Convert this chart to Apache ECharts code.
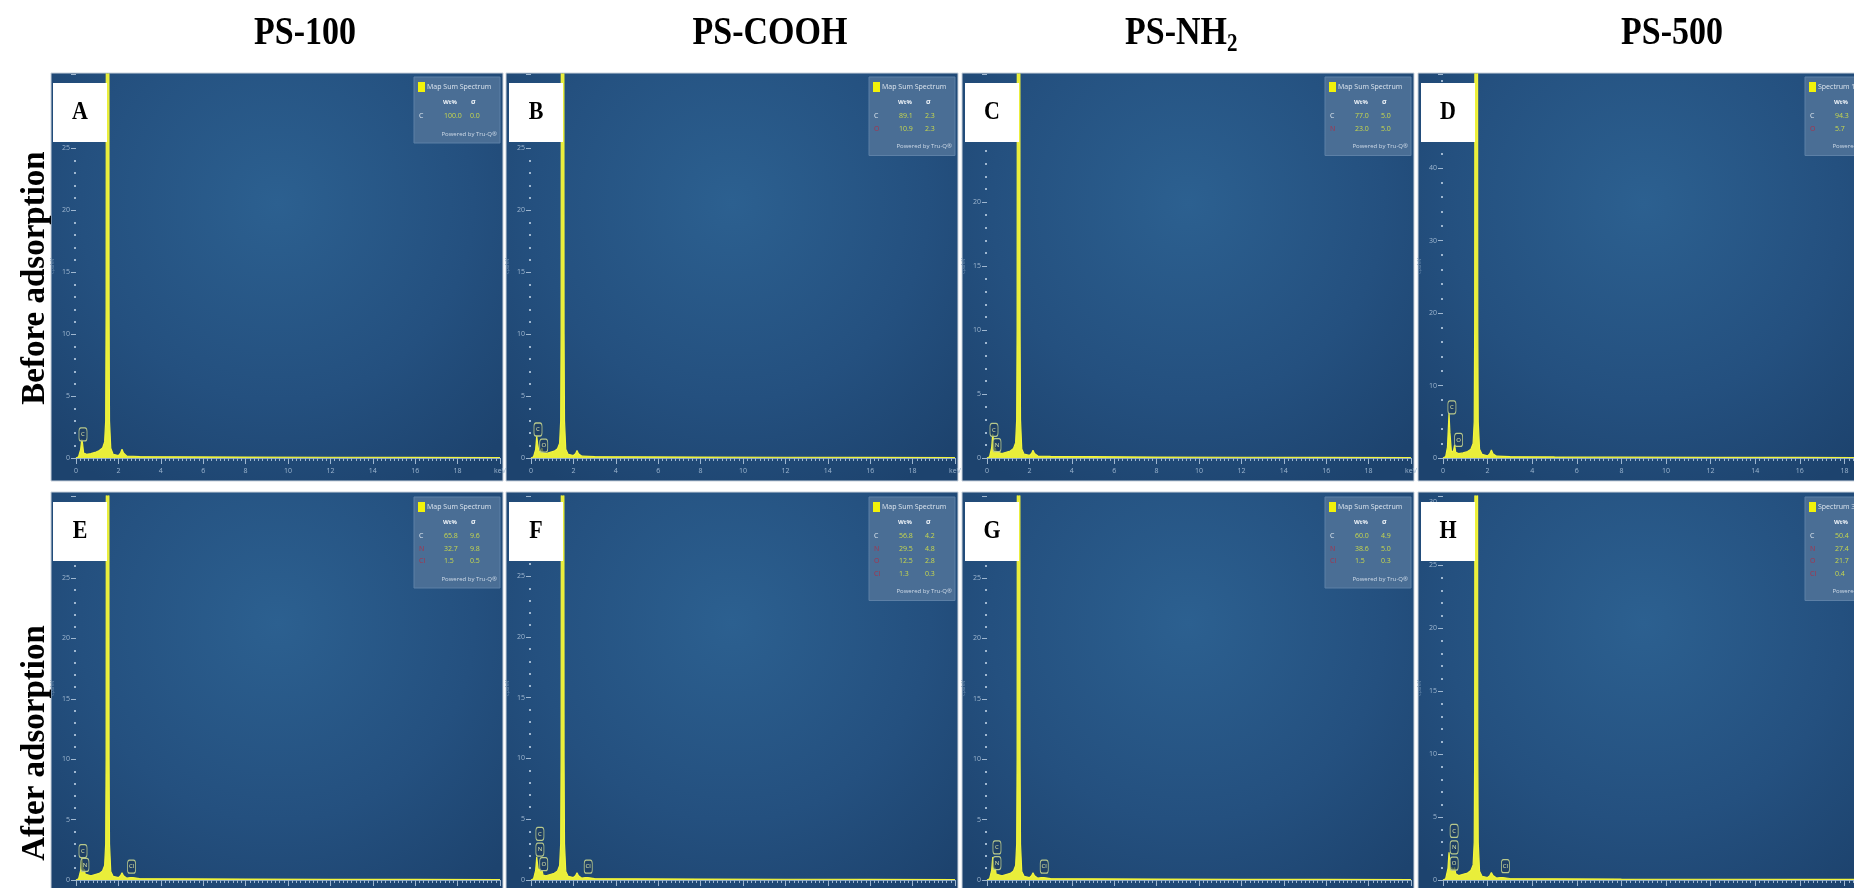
<!DOCTYPE html>
<html><head><meta charset="utf-8">
<script src="https://cdn.jsdelivr.net/npm/echarts@6/dist/echarts.min.js"></script>
<style>html,body{margin:0;padding:0;background:#fff}#c{width:1854px;height:888px}</style>
</head><body><div id="c"></div>
<script>
// ---------------- DATA ----------------
const panelLetters = ['A','B','C','D','E','F','G','H'];
const columnTitles = ['PS-100','PS-COOH','PS-NH','PS-500'];
const columnSubscripts = ['','','2',''];
const rowTitles = ['Before adsorption','After adsorption'];
const legendTitles = ['Map Sum Spectrum','Map Sum Spectrum','Map Sum Spectrum','Spectrum 1','Map Sum Spectrum','Map Sum Spectrum','Map Sum Spectrum','Spectrum 3'];
const legendHeader = ['Wt%','σ'];
const legendFooter = 'Powered by Tru-Q®';
const yAxisName = 'cps/eV';
const xUnitLabel = 'keV';
const xMax = 20, xInterval = 2;
const yMaxes = [31,31,30,53,31.8,31.6,31.8,30.5];
const yIntervals = [5,5,5,10,5,5,5,5];

// spectra: [keV, counts]
const specA = [[0,0],[0.12,0.1],[0.22,0.7],[0.27,1.5],[0.3,1.3],[0.36,0.4],[0.5,0.3],[0.7,0.35],[0.9,0.45],[1.1,0.6],[1.25,0.8],[1.35,1.3],[1.40,3],[1.42,12],[1.44,60],[1.49,400],[1.54,60],[1.56,12],[1.58,3],[1.64,0.8],[1.75,0.3],[2.0,0.2],[2.1,0.4],[2.17,0.7],[2.24,0.4],[2.4,0.15],[3,0.12],[5,0.1],[8,0.08],[12,0.06],[16,0.05],[20,0.04]];
const specB = [[0,0],[0.12,0.1],[0.22,0.7],[0.27,1.8],[0.31,1.2],[0.38,0.4],[0.47,0.5],[0.52,0.8],[0.57,0.4],[0.7,0.35],[0.9,0.45],[1.1,0.55],[1.25,0.75],[1.35,1.2],[1.40,3],[1.42,10],[1.44,55],[1.49,380],[1.54,55],[1.56,10],[1.58,3],[1.64,0.7],[1.75,0.3],[2.0,0.2],[2.1,0.35],[2.17,0.6],[2.24,0.35],[2.4,0.15],[3,0.12],[5,0.1],[8,0.08],[12,0.06],[16,0.05],[20,0.04]];
const specC = [[0,0],[0.12,0.1],[0.22,0.8],[0.27,1.9],[0.31,1.3],[0.35,0.6],[0.39,0.8],[0.43,0.5],[0.5,0.35],[0.7,0.35],[0.9,0.45],[1.1,0.55],[1.25,0.75],[1.35,1.2],[1.40,3],[1.42,10],[1.44,55],[1.49,380],[1.54,55],[1.56,10],[1.58,3],[1.64,0.7],[1.75,0.3],[2.0,0.2],[2.1,0.35],[2.17,0.6],[2.24,0.35],[2.4,0.15],[3,0.12],[5,0.1],[8,0.08],[12,0.06],[16,0.05],[20,0.04]];
const specD = [[0,0],[0.12,0.2],[0.2,1.5],[0.27,6.2],[0.31,3.5],[0.38,0.8],[0.47,1.0],[0.52,1.8],[0.57,0.8],[0.7,0.6],[0.9,0.7],[1.1,0.9],[1.25,1.2],[1.35,2],[1.40,5],[1.42,18],[1.44,90],[1.49,600],[1.54,90],[1.56,18],[1.58,5],[1.64,1.2],[1.75,0.5],[2.0,0.3],[2.1,0.6],[2.17,1.1],[2.24,0.6],[2.4,0.25],[3,0.2],[5,0.15],[8,0.12],[12,0.1],[16,0.08],[20,0.06]];
const specE = [[0,0],[0.12,0.1],[0.22,0.8],[0.27,1.8],[0.31,1.3],[0.35,0.7],[0.39,0.9],[0.43,0.5],[0.5,0.35],[0.7,0.35],[0.9,0.45],[1.1,0.55],[1.25,0.75],[1.35,1.2],[1.40,3],[1.42,10],[1.44,55],[1.49,380],[1.54,55],[1.56,10],[1.58,3],[1.64,0.7],[1.75,0.3],[2.0,0.2],[2.1,0.35],[2.17,0.6],[2.24,0.35],[2.4,0.15],[2.56,0.2],[2.62,0.35],[2.68,0.2],[3,0.12],[5,0.1],[8,0.08],[12,0.06],[16,0.05],[20,0.04]];
const specF = [[0,0],[0.12,0.1],[0.22,0.8],[0.27,1.9],[0.31,1.3],[0.35,0.7],[0.39,0.9],[0.45,0.6],[0.52,0.8],[0.57,0.4],[0.7,0.35],[0.9,0.45],[1.1,0.55],[1.25,0.75],[1.35,1.2],[1.40,3],[1.42,10],[1.44,55],[1.49,380],[1.54,55],[1.56,10],[1.58,3],[1.64,0.7],[1.75,0.3],[2.0,0.2],[2.1,0.35],[2.17,0.6],[2.24,0.35],[2.4,0.15],[2.56,0.2],[2.62,0.35],[2.68,0.2],[3,0.12],[5,0.1],[8,0.08],[12,0.06],[16,0.05],[20,0.04]];
const specG = [[0,0],[0.12,0.1],[0.22,0.8],[0.27,1.9],[0.31,1.3],[0.35,0.7],[0.39,1.0],[0.43,0.5],[0.5,0.35],[0.7,0.35],[0.9,0.45],[1.1,0.55],[1.25,0.75],[1.35,1.2],[1.40,3],[1.42,10],[1.44,55],[1.49,380],[1.54,55],[1.56,10],[1.58,3],[1.64,0.7],[1.75,0.3],[2.0,0.2],[2.1,0.35],[2.17,0.6],[2.24,0.35],[2.4,0.15],[2.56,0.2],[2.62,0.35],[2.68,0.2],[3,0.12],[5,0.1],[8,0.08],[12,0.06],[16,0.05],[20,0.04]];
const specH = [[0,0],[0.12,0.1],[0.22,0.9],[0.27,2.2],[0.31,1.4],[0.35,0.8],[0.39,1.0],[0.45,0.7],[0.52,1.0],[0.57,0.5],[0.7,0.35],[0.9,0.45],[1.1,0.55],[1.25,0.75],[1.35,1.2],[1.40,3],[1.42,10],[1.44,55],[1.49,380],[1.54,55],[1.56,10],[1.58,3],[1.64,0.7],[1.75,0.3],[2.0,0.2],[2.1,0.35],[2.17,0.6],[2.24,0.35],[2.4,0.15],[2.56,0.2],[2.62,0.3],[2.68,0.2],[3,0.12],[5,0.1],[8,0.08],[12,0.06],[16,0.05],[20,0.04]];

// element quantification tables: [element, Wt%, sigma]
const compA = [['C','100.0','0.0']];
const compB = [['C','89.1','2.3'],['O','10.9','2.3']];
const compC = [['C','77.0','5.0'],['N','23.0','5.0']];
const compD = [['C','94.3','1.1'],['O','5.7','1.1']];
const compE = [['C','65.8','9.6'],['N','32.7','9.8'],['Cl','1.5','0.5']];
const compF = [['C','56.8','4.2'],['N','29.5','4.8'],['O','12.5','2.8'],['Cl','1.3','0.3']];
const compG = [['C','60.0','4.9'],['N','38.6','5.0'],['Cl','1.5','0.3']];
const compH = [['C','50.4','7.1'],['N','27.4','6.9'],['O','21.7','6.1'],['Cl','0.4','0.1']];

// peak tags: [element, keV, counts]
const peakA = [['C',0.33,1.9]];
const peakB = [['C',0.33,2.3],['O',0.6,1.0]];
const peakC = [['C',0.33,2.2],['N',0.47,1.0]];
const peakD = [['C',0.4,7],['O',0.7,2.5]];
const peakE = [['C',0.33,2.4],['N',0.42,1.25],['Cl',2.62,1.1]];
const peakF = [['C',0.42,3.8],['N',0.42,2.5],['O',0.6,1.3],['Cl',2.7,1.1]];
const peakG = [['C',0.47,2.7],['N',0.47,1.4],['Cl',2.7,1.1]];
const peakH = [['C',0.5,3.9],['N',0.5,2.6],['O',0.5,1.3],['Cl',2.8,1.1]];

const spectra = [specA,specB,specC,specD,specE,specF,specG,specH];
const comps = [compA,compB,compC,compD,compE,compF,compG,compH];
const peaks = [peakA,peakB,peakC,peakD,peakE,peakF,peakG,peakH];

// ---------------- LAYOUT ----------------
const panelLefts = [51,506,962,1418];
const panelTops = [73,492];
const plotTopOff = [1,4];
const panelW = 452, panelH = [408,410];
const plotOffX = 25, plotH = 384;
const plotWs = [424,424,424,446];
const legendLefts = [414,869,1325,1805];
const titleCenters = [305,770,1181,1672];

const grids=[], xAxes=[], yAxes=[], series=[], graphic=[];
const tickCol = '#9fb7d0';

for (let i=0;i<8;i++){
  const r = i<4?0:1, c = i%4;
  const pl = panelLefts[c], pt = panelTops[r];
  grids.push({left: pl+plotOffX, top: pt+plotTopOff[r], width: plotWs[c], height: plotH,
    containLabel:false, outerBoundsMode:'none'});
  xAxes.push({type:'value', gridIndex:i, min:0, max:xMax, interval:xInterval,
    axisLine:{show:true, lineStyle:{color:'#8aa8c6', width:1}},
    axisTick:{show:true, length:6, lineStyle:{color:tickCol, width:1}},
    minorTick:{show:true, splitNumber:10, length:3, lineStyle:{color:tickCol, width:1}},
    splitLine:{show:false}, minorSplitLine:{show:false},
    axisLabel:{color:tickCol, fontSize:7, margin:9, fontFamily:'Open Sans', showMaxLabel:true, hideOverlap:false,
      formatter:v=> v===xMax ? xUnitLabel : String(v)}});
  yAxes.push({type:'value', gridIndex:i, min:0, max:yMaxes[i], interval:yIntervals[i],
    name:yAxisName, nameLocation:'middle', nameGap:21, nameRotate:90,
    nameTextStyle:{color:'#6f8fb0', fontSize:5, fontFamily:'Open Sans'},
    axisLine:{show:false},
    axisTick:{show:true, length:5, lineStyle:{color:tickCol, width:1}},
    minorTick:{show:true, splitNumber:5, length:2, lineStyle:{color:tickCol, width:2}},
    splitLine:{show:false}, minorSplitLine:{show:false},
    axisLabel:{color:tickCol, fontSize:7, margin:6, fontFamily:'Open Sans', showMaxLabel:false}});
  series.push({type:'line', xAxisIndex:i, yAxisIndex:i, data:spectra[i], showSymbol:false,
    clip:true, smooth:false, z:3,
    lineStyle:{color:'#f3f53c', width:1.2},
    areaStyle:{color:'#e9ee3a', opacity:1},
    markPoint:{symbol:'roundRect', symbolSize:[8,13], silent:true, animation:false,
      itemStyle:{color:'rgba(30,60,95,0.7)', borderColor:'#b9c98c', borderWidth:1},
      label:{show:true, position:'inside', formatter:'{b}', color:'#dfe7a8', fontSize:6, fontFamily:'Open Sans'},
      data: peaks[i].map(p=>({name:p[0], coord:[p[1],p[2]]}))}});

  // panel background
  graphic.push({type:'rect', z:-10, shape:{x:pl, y:pt, width:panelW, height:panelH[r]},
    style:{fill:{type:'radial', x:0.5, y:0.32, r:0.8, colorStops:[{offset:0,color:'#2c6090'},{offset:0.6,color:'#24507f'},{offset:1,color:'#1d436e'}]},
      stroke:'#c9d2dc', lineWidth:1}});
  // letter box
  const bx = (c===0?pl+2:pl+3), by = pt+10;
  graphic.push({type:'rect', z:20, shape:{x:bx, y:by, width:54, height:59}, style:{fill:'#ffffff'}});
  graphic.push({type:'text', z:21, x:bx+27, y:by+29, scaleY:1.15,
    style:{text:panelLetters[i], fill:'#000', fontSize:22, fontWeight:'bold', fontFamily:'Liberation Serif',
      align:'center', verticalAlign:'middle', textAlign:'center', textVerticalAlign:'middle'}});
  // legend box
  const L = legendLefts[c], T = pt + (r===0?4:5);
  const rows = comps[i];
  const h = 66 + 12.5*(rows.length-1);
  graphic.push({type:'rect', z:20, shape:{x:L, y:T, width:86, height:h}, style:{fill:'#4a6e95', stroke:'#5d80a6', lineWidth:1}});
  graphic.push({type:'rect', z:21, shape:{x:L+4, y:T+5, width:7, height:10}, style:{fill:'#f2f20a'}});
  const txt = (s,x,y,fill,size,weight,align)=>graphic.push({type:'text', z:22, x:x, y:y,
    style:{text:s, fill:fill, fontSize:size, fontWeight:weight||'normal', fontFamily:'Open Sans',
      align:align||'left', verticalAlign:'middle', textAlign:align||'left', textVerticalAlign:'middle'}});
  txt(legendTitles[i], L+13, T+10, '#dde6ef', 7);
  txt(legendHeader[0], L+29, T+25, '#eef3f8', 6, 'bold');
  txt(legendHeader[1], L+57, T+25, '#eef3f8', 7, 'bold');
  rows.forEach((rw,k)=>{
    const y = T+39+12.5*k;
    txt(rw[0], L+5, y, rw[0]==='C'?'#dfe7ef':'#a8324a', 7);
    txt(rw[1], L+30, y, '#c9d94c', 7);
    txt(rw[2], L+56, y, '#c9d94c', 7);
  });
  txt(legendFooter, L+83, T+39+12.5*(rows.length-1)+18, '#cfdbe8', 6, 'normal', 'right');
}

// column titles
for (let c=0;c<4;c++){
  if (columnSubscripts[c]){
    graphic.push({type:'text', x:titleCenters[c]-56, y:34, scaleY:1.16,
      style:{text:columnTitles[c], fill:'#000', fontSize:34, fontWeight:'bold', fontFamily:'Liberation Serif',
        align:'left', verticalAlign:'middle', textAlign:'left', textVerticalAlign:'middle'}});
    graphic.push({type:'text', x:titleCenters[c]+46, y:45, scaleY:1.16,
      style:{text:columnSubscripts[c], fill:'#000', fontSize:21, fontWeight:'bold', fontFamily:'Liberation Serif',
        align:'left', verticalAlign:'middle', textAlign:'left', textVerticalAlign:'middle'}});
  } else {
    graphic.push({type:'text', x:titleCenters[c], y:34, scaleY:1.16,
      style:{text:columnTitles[c], fill:'#000', fontSize:34, fontWeight:'bold', fontFamily:'Liberation Serif',
        align:'center', verticalAlign:'middle', textAlign:'center', textVerticalAlign:'middle'}});
  }
}
// row titles
const rowCenters = [278,743];
for (let r=0;r<2;r++){
  graphic.push({type:'text', x:35, y:rowCenters[r], rotation:Math.PI/2,
    style:{text:rowTitles[r], fill:'#000', fontSize:33, fontWeight:'bold', fontFamily:'Liberation Serif',
      align:'center', verticalAlign:'middle', textAlign:'center', textVerticalAlign:'middle'}});
}

const chart = echarts.init(document.getElementById('c'), null, {renderer:'canvas'});
chart.setOption({animation:false, backgroundColor:'#ffffff', grid:grids, xAxis:xAxes, yAxis:yAxes, series:series, graphic:graphic});
</script></body></html>
